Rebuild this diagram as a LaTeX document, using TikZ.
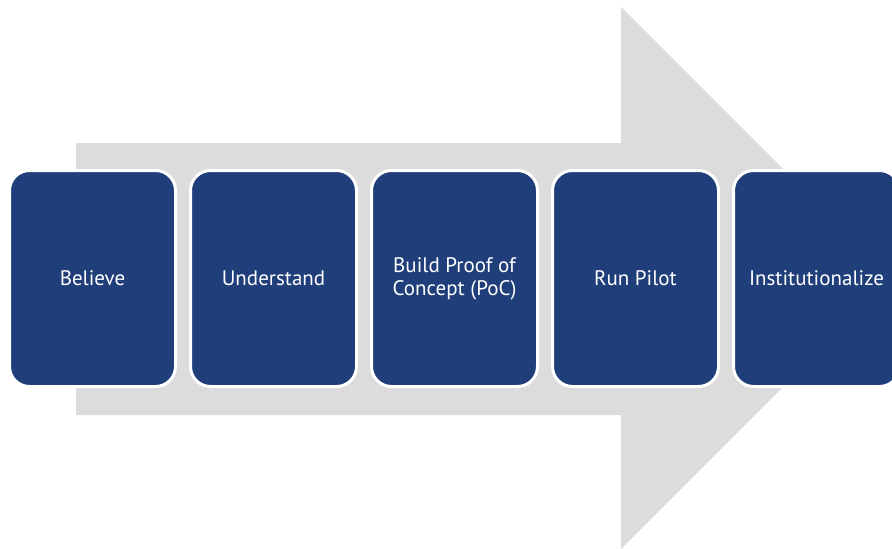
\documentclass[tikz,border=0pt]{standalone}
\usepackage{fontspec}
\setmainfont{PT Sans}
\usepackage{xcolor}
\usepackage{tikz}
\usetikzlibrary{positioning}
\definecolor{stepblue}{RGB}{32,63,122}
\definecolor{arrowgray}{RGB}{220,220,220}

\begin{document}
\begin{tikzpicture}[
    x=1pt, y=-1pt,
    stage/.style={draw=white, line width=3pt, fill=stepblue, text=white, align=center,
        minimum width=166pt, minimum height=216pt, rounded corners=20pt,
        font=\fontsize{21}{23}\selectfont}
]
    \useasboundingbox (0,0) rectangle (892,549);

    % Background arrow
    \fill[arrowgray] (76,143) -- (621,143) -- (621,7) -- (892,278)
        -- (621,549) -- (621,415) -- (76,415) -- cycle;

    % Stages
    \node[stage] (believe) at (92.5,278.5) {Believe};
    \node[stage] (understand) at (273.5,278.5) {Understand};
    \node[stage] (poc) at (454.5,278.5) {Build Proof of\\Concept (PoC)};
    \node[stage] (pilot) at (635.5,278.5) {Run Pilot};
    \node[stage] (institutionalize) at (816.5,278.5) {Institutionalize};
\end{tikzpicture}
\end{document}
